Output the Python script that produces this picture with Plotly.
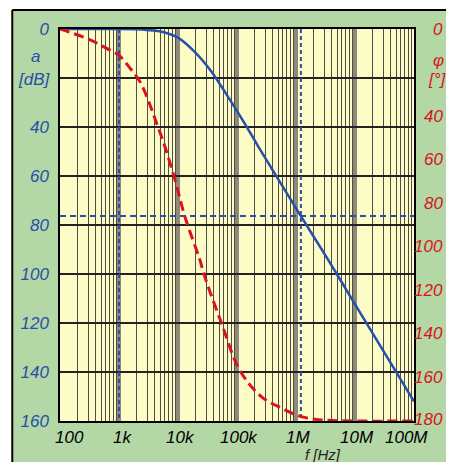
import math
import plotly.graph_objects as go

# ---- data ----
amp_freq = [100, 300, 1000, 2000, 3000, 5300, 10100, 19000, 37000, 71000, 133000,
            227000, 1210000, 3470000, 8500000, 100000000]
amp_db = [0, 0, 0, 0.1, 0.4, 1.1, 3.6, 9.2, 17.4, 27.8, 38.3,
          47.8, 76.4, 94.0, 109.5, 152.0]

phase_freq = [100, 115, 325, 615, 980, 1540, 2270, 3350, 4340, 5630, 8900, 13100,
              23500, 28400, 54500, 111000, 258000, 560000, 1230000, 2700000,
              10000000, 100000000]
phase_deg = [0, 0.5, 5, 8.9, 11.9, 18, 24.2, 34.9, 43.3, 51.7, 69.3, 86.2,
             106, 113.7, 135, 156.6, 168.8, 174, 178, 179.5, 180, 180]

marker_freqs = [1000, 1210000]   # blue dotted verticals
marker_level = 76.3              # blue dashed horizontal (dB)

x_tick_vals = [100, 1e3, 1e4, 1e5, 1e6, 1e7, 1e8]
x_tick_text = ["100", "1k", "10k", "100k", "1M", "10M", "100M"]
y_tick_vals = [0, 20, 40, 60, 80, 100, 120, 140, 160]
y_tick_text = ["0", "", "40", "60", "80", "100", "120", "140", "160"]
y2_tick_vals = [0, 40, 60, 80, 100, 120, 140, 160, 180]

BLUE = "#2750a8"
RED = "#d81420"
GREEN = "#b4d7a6"
YELLOW = "#fdfbc6"
FONT = "Liberation Sans"

OFF = 8  # page body margin
W, H = 454 - 2 * OFF, 470 - 2 * OFF
L, T = 58 - OFF, 29 - OFF
R = W - (414 - OFF)
B = H - (421 - OFF)
PW, PH = W - L - R, H - T - B


def px_x(px):
    return (px - OFF - L) / PW


def px_y(py):
    return (H - B - (py - OFF)) / PH


fig = go.Figure()

fig.add_trace(go.Scatter(x=amp_freq, y=amp_db, mode="lines",
                         line=dict(color=BLUE, width=2.5, shape="spline", smoothing=0.8),
                         yaxis="y", showlegend=False, hoverinfo="skip"))
fig.add_trace(go.Scatter(x=phase_freq, y=phase_deg, mode="lines",
                         line=dict(color=RED, width=3, dash="10px,5px", shape="spline"),
                         yaxis="y2", showlegend=False, hoverinfo="skip"))
for f in marker_freqs:
    fig.add_trace(go.Scatter(x=[f, f], y=[0, 160], mode="lines",
                             line=dict(color=BLUE, width=2, dash="4px,3px"),
                             yaxis="y", showlegend=False, hoverinfo="skip"))
fig.add_trace(go.Scatter(x=[100, 1e8], y=[marker_level, marker_level], mode="lines",
                         line=dict(color=BLUE, width=2, dash="6px,4px"),
                         yaxis="y", showlegend=False, hoverinfo="skip"))

ann = []
shifts = [9, 3, 2, 2, 2, 2, -8]
for v, t, s in zip(x_tick_vals, x_tick_text, shifts):
    ann.append(dict(x=math.log10(v), xref="x", y=px_y(437), yref="paper",
                    text=t, showarrow=False, xanchor="center", yanchor="middle",
                    xshift=s, font=dict(family=FONT, size=17, color="black", style="italic")))
ann.append(dict(x=px_x(322), y=px_y(454), xref="paper", yref="paper", text="f [Hz]",
                showarrow=False, xanchor="center", yanchor="middle",
                font=dict(family=FONT, size=15, color="#222222", style="italic")))
for v in y2_tick_vals:
    ann.append(dict(x=px_x(445), xref="paper", y=v, yref="y2", text=str(v),
                    showarrow=False, xanchor="right", yanchor="middle",
                    yshift=(2 if v == 180 else 0),
                    font=dict(family=FONT, size=17, color=RED, style="italic")))
ann.append(dict(x=px_x(439), y=px_y(60), xref="paper", yref="paper", text="φ",
                showarrow=False, xanchor="center", yanchor="middle",
                font=dict(family=FONT, size=17, color=RED, style="italic")))
ann.append(dict(x=px_x(438), y=px_y(80), xref="paper", yref="paper", text="[°]",
                showarrow=False, xanchor="center", yanchor="middle",
                font=dict(family=FONT, size=17, color=RED, style="italic")))
ann.append(dict(x=px_x(33), y=px_y(57), xref="paper", yref="paper", text="a",
                showarrow=False, xanchor="center", yanchor="middle",
                font=dict(family=FONT, size=17, color=BLUE, style="italic")))
ann.append(dict(x=px_x(32), y=px_y(80), xref="paper", yref="paper", text="[dB]",
                showarrow=False, xanchor="center", yanchor="middle",
                font=dict(family=FONT, size=17, color=BLUE, style="italic")))

shapes = [
    dict(type="rect", xref="paper", yref="paper", x0=-0.5, x1=1.5, y0=px_y(10), y1=1.5,
         fillcolor="white", line=dict(width=0), layer="above"),
    dict(type="rect", xref="paper", yref="paper", x0=-0.5, x1=px_x(10), y0=-0.5, y1=1.5,
         fillcolor="white", line=dict(width=0), layer="above"),
    dict(type="line", xref="paper", yref="paper", x0=px_x(10), x1=1.5, y0=px_y(10), y1=px_y(10),
         line=dict(color="black", width=2), layer="above"),
    dict(type="line", xref="paper", yref="paper", x0=px_x(10), x1=px_x(10), y0=-0.5, y1=px_y(10),
         line=dict(color="black", width=2), layer="above"),
]

fig.update_layout(
    width=W, height=H,
    margin=dict(l=L, r=R, t=T, b=B, pad=0),
    paper_bgcolor=GREEN, plot_bgcolor=YELLOW,
    annotations=ann, shapes=shapes,
    xaxis=dict(type="log", range=[2, 8], showticklabels=False, ticks="",
               showgrid=True, gridcolor="#8e8a7a", gridwidth=4, dtick=1,
               minor=dict(showgrid=True, gridcolor="#4e4c44", gridwidth=1.3, dtick="D1"),
               showline=True, linecolor="black", linewidth=1.5, mirror=True, zeroline=False),
    yaxis=dict(range=[160, 0], tickvals=y_tick_vals, ticktext=y_tick_text,
               showgrid=True, gridcolor="#222222", gridwidth=1.5, ticks="",
               ticklabelstandoff=6,
               tickfont=dict(family=FONT, size=17, color=BLUE, style="italic"),
               showline=True, linecolor="black", linewidth=1.5, mirror=True, zeroline=False),
    yaxis2=dict(range=[180, 0], overlaying="y", side="right", showgrid=False,
                showticklabels=False, ticks="", zeroline=False, showline=False),
)

fig.write_html("out.html")
